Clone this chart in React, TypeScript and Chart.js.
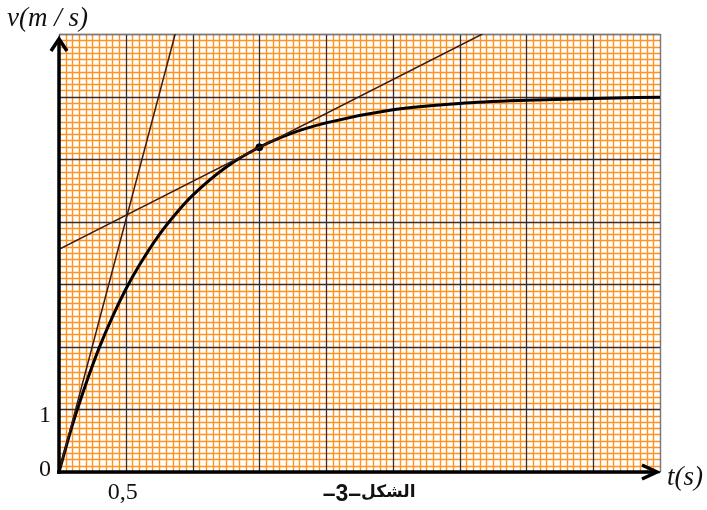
import { useEffect, useRef } from "react";
import { Chart, registerables } from "chart.js";

Chart.register(...registerables);

// ---- data ----
const timeS = [0, 0.1, 0.2, 0.3, 0.4, 0.5, 0.6, 0.75, 0.9, 1.0, 1.25, 1.5, 1.75, 2.0, 2.5, 3.0, 3.5, 4.0, 4.5];
const speedMS = [0, 0.75, 1.4, 1.98, 2.48, 2.92, 3.3, 3.79, 4.19, 4.42, 4.87, 5.19, 5.42, 5.58, 5.79, 5.89, 5.94, 5.97, 5.99];
const tangentOriginT = [0, 0.87];
const tangentOriginV = [0, 7];
const tangentPointT = [0, 3.17];
const tangentPointV = [3.56, 7];
const markT = [1.5];
const markV = [5.19];

// axis ranges / graph-paper steps
const xRange = [0, 4.5];
const yRange = [0, 7];
const xMinorStep = 0.05;
const yMinorStep = 0.1;
const xTickValues = [0.5];
const xTickLabels = ["0,5"];
const yTickValues = [1];
const yTickLabels = ["1"];
const originLabel = "0";
const yAxisTitle = "v(m / s)";
const xAxisTitle = "t(s)";
const captionNumber = "–3–";
const captionWord = "الشكل";

const zip = (xs: number[], ys: number[]) => xs.map((x, i) => ({ x, y: ys[i] }));

export default function App() {
  const ref = useRef<HTMLCanvasElement | null>(null);

  useEffect(() => {
    if (!ref.current) return;

    const paper = {
      id: "paper",
      beforeDatasetsDraw(chart: any) {
        const { ctx, chartArea: a, scales } = chart;
        const xs = scales.x;
        const ys = scales.y;
        ctx.save();
        ctx.fillStyle = "#ffffff";
        ctx.fillRect(a.left, a.top, a.right - a.left, a.bottom - a.top);
        const nx = Math.round((xRange[1] - xRange[0]) / xMinorStep);
        const ny = Math.round((yRange[1] - yRange[0]) / yMinorStep);
        // minor orange lines
        ctx.strokeStyle = "#ff9322";
        ctx.lineWidth = 1.4;
        for (let i = 0; i <= nx; i++) {
          if (i % 10 === 0) continue;
          const px = Math.round(xs.getPixelForValue(xRange[0] + i * xMinorStep)) + 0.5;
          ctx.beginPath();
          ctx.moveTo(px, a.top);
          ctx.lineTo(px, a.bottom);
          ctx.stroke();
        }
        for (let j = 0; j <= ny; j++) {
          if (j % 10 === 0) continue;
          const py = Math.round(ys.getPixelForValue(yRange[0] + j * yMinorStep)) + 0.5;
          ctx.beginPath();
          ctx.moveTo(a.left, py);
          ctx.lineTo(a.right, py);
          ctx.stroke();
        }
        // major dark lines
        ctx.strokeStyle = "#3e2a20";
        ctx.lineWidth = 1.3;
        for (let i = 0; i <= nx; i += 10) {
          const px = Math.round(xs.getPixelForValue(xRange[0] + i * xMinorStep)) + 0.5;
          ctx.beginPath();
          ctx.moveTo(px, a.top);
          ctx.lineTo(px, a.bottom);
          ctx.stroke();
        }
        for (let j = 0; j <= ny; j += 10) {
          const py = Math.round(ys.getPixelForValue(yRange[0] + j * yMinorStep)) + 0.5;
          ctx.beginPath();
          ctx.moveTo(a.left, py);
          ctx.lineTo(a.right, py);
          ctx.stroke();
        }
        // border
        ctx.strokeStyle = "#7a7a7a";
        ctx.lineWidth = 1;
        ctx.beginPath();
        ctx.moveTo(a.left, a.top + 0.5);
        ctx.lineTo(a.right + 0.5, a.top + 0.5);
        ctx.lineTo(a.right + 0.5, a.bottom);
        ctx.stroke();
        ctx.restore();
      },
      afterDatasetsDraw(chart: any) {
        const { ctx, chartArea: a, scales } = chart;
        const x0 = scales.x.getPixelForValue(xRange[0]);
        const y0 = scales.y.getPixelForValue(yRange[0]);
        ctx.save();
        ctx.strokeStyle = "#000";
        ctx.lineWidth = 3.5;
        ctx.lineCap = "butt";
        ctx.lineJoin = "miter";
        // y axis
        ctx.beginPath();
        ctx.moveTo(x0, y0 + 2);
        ctx.lineTo(x0, a.top + 5);
        ctx.stroke();
        ctx.beginPath();
        ctx.moveTo(x0 - 8, a.top + 17);
        ctx.lineTo(x0, a.top + 5);
        ctx.lineTo(x0 + 8, a.top + 17);
        ctx.stroke();
        // x axis
        ctx.beginPath();
        ctx.moveTo(x0 - 2, y0);
        ctx.lineTo(a.right - 3, y0);
        ctx.stroke();
        ctx.beginPath();
        ctx.moveTo(a.right - 18, y0 - 7);
        ctx.lineTo(a.right - 3, y0);
        ctx.lineTo(a.right - 18, y0 + 7);
        ctx.stroke();

        // labels
        ctx.fillStyle = "#111";
        ctx.textBaseline = "middle";
        ctx.font = "24px 'Liberation Serif', serif";
        ctx.textAlign = "right";
        ctx.fillText(originLabel, x0 - 8, y0 - 2);
        yTickValues.forEach((v, i) => {
          ctx.fillText(yTickLabels[i], x0 - 8, scales.y.getPixelForValue(v) + 6);
        });
        ctx.textAlign = "center";
        xTickValues.forEach((v, i) => {
          ctx.fillText(xTickLabels[i], scales.x.getPixelForValue(v) - 3, y0 + 21);
        });
        ctx.font = "italic 27px 'Liberation Serif', serif";
        ctx.textAlign = "left";
        ctx.fillText(yAxisTitle, 7, 19);
        ctx.fillText(xAxisTitle, a.right + 7, y0 + 6);

        // caption
        const cx = 361;
        ctx.textAlign = "right";
        ctx.font = "bold 23px 'Liberation Sans', sans-serif";
        ctx.fillText(captionNumber, cx, y0 + 23);
        ctx.font = "bold 17px 'DejaVu Sans', sans-serif";
        ctx.direction = "rtl";
        ctx.textAlign = "right";
        const w = ctx.measureText(captionWord).width;
        ctx.fillText(captionWord, cx + w, y0 + 21);
        ctx.restore();
      },
    };

    const chart = new Chart(ref.current, {
      type: "scatter",
      data: {
        datasets: [
          {
            data: zip(tangentOriginT, tangentOriginV),
            showLine: true,
            borderColor: "#3b1c14",
            borderWidth: 1.5,
            pointRadius: 0,
          },
          {
            data: zip(tangentPointT, tangentPointV),
            showLine: true,
            borderColor: "#3b1c14",
            borderWidth: 1.5,
            pointRadius: 0,
          },
          {
            data: zip(timeS, speedMS),
            showLine: true,
            borderColor: "#000",
            borderWidth: 3,
            pointRadius: 0,
            tension: 0.4,
            cubicInterpolationMode: "monotone",
          },
          {
            data: zip(markT, markV),
            showLine: false,
            backgroundColor: "#000",
            borderColor: "#000",
            pointRadius: 3.5,
          },
        ],
      },
      options: {
        animation: false,
        responsive: false,
        events: [],
        layout: { padding: { left: 59, right: 47, top: 34, bottom: 38 } },
        plugins: { legend: { display: false }, tooltip: { enabled: false } },
        scales: {
          x: { type: "linear", min: xRange[0], max: xRange[1], display: false },
          y: { type: "linear", min: yRange[0], max: yRange[1], display: false },
        },
      },
      plugins: [paper],
    } as any);

    return () => chart.destroy();
  }, []);

  return (
    <div style={{ position: "absolute", left: 0, top: 0, width: 707, height: 510, background: "#fff" }}>
      <canvas ref={ref} width={707} height={510} style={{ display: "block" }} />
    </div>
  );
}
